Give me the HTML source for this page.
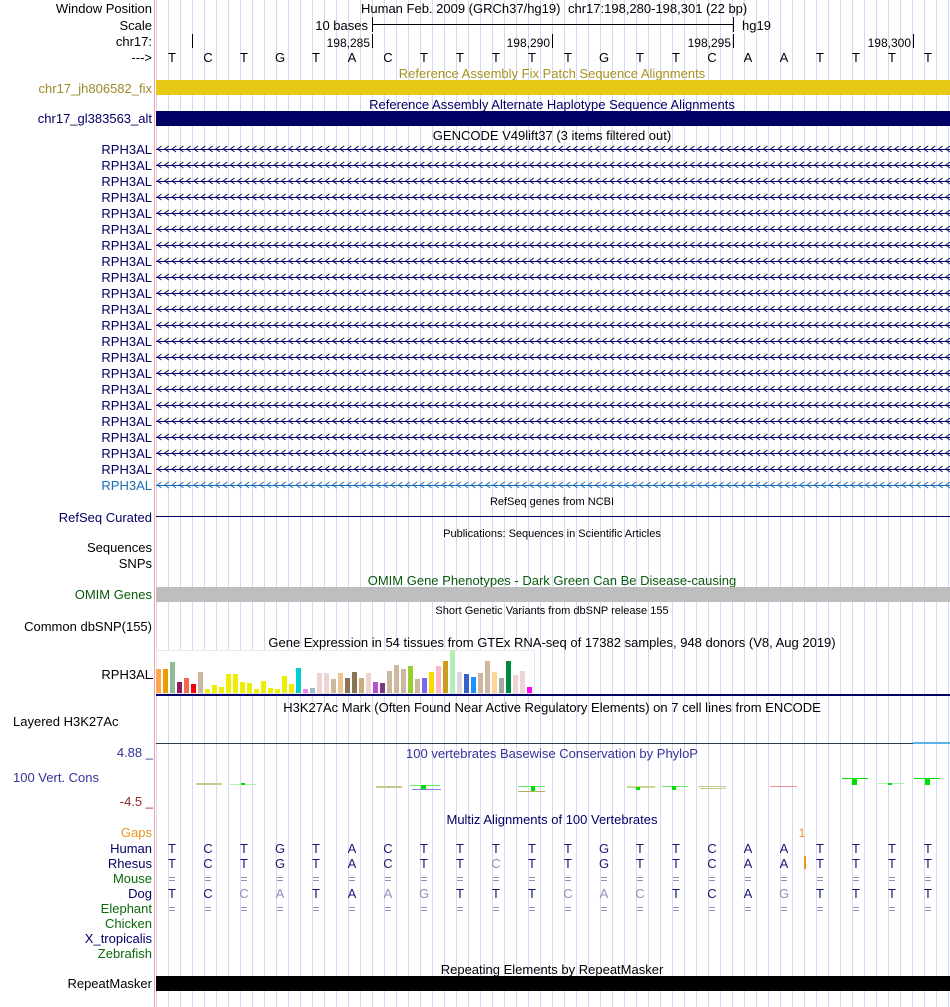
<!DOCTYPE html>
<html><head><meta charset="utf-8"><style>
html,body{margin:0;padding:0;background:#fff;}
svg{display:block;font-family:"Liberation Sans",sans-serif;}
</style></head><body>
<svg width="950" height="1007" viewBox="0 0 950 1007" xmlns="http://www.w3.org/2000/svg">
<defs>
<pattern id="grid" x="156" y="0" width="12" height="20" patternUnits="userSpaceOnUse">
<rect x="0" y="0" width="1" height="20" fill="#d6d6f6"/>
</pattern>
<pattern id="chev" x="156" y="141" width="7.3" height="16" patternUnits="userSpaceOnUse">
<path d="M5.5,5 L1.5,8 L5.5,11" fill="none" stroke="#000066" stroke-width="1"/>
<rect x="0" y="8" width="7.3" height="1" fill="#000066"/>
</pattern>
<pattern id="chev2" x="156" y="477" width="7.3" height="16" patternUnits="userSpaceOnUse">
<path d="M5.5,5 L1.5,8 L5.5,11" fill="none" stroke="#1a6cb8" stroke-width="1"/>
<rect x="0" y="8" width="7.3" height="1" fill="#1a6cb8"/>
</pattern>
</defs>
<rect x="156" y="0" width="794" height="1007" fill="url(#grid)"/>
<rect x="154" y="0" width="1" height="1007" fill="#f4a0a0"/>

<g font-size="13" text-anchor="end" fill="#000">
<text x="152" y="13">Window Position</text>
<text x="152" y="30">Scale</text>
<text x="152" y="46">chr17:</text>
<text x="152" y="62">---&gt;</text>
<text x="152" y="93" fill="#9b8a2a">chr17_jh806582_fix</text>
<text x="152" y="123" fill="#000066">chr17_gl383563_alt</text>
</g>
<text x="361" y="13" font-size="13">Human Feb. 2009 (GRCh37/hg19)</text>
<text x="568" y="13" font-size="13">chr17:198,280-198,301 (22 bp)</text>
<text x="368" y="30" font-size="13" text-anchor="end">10 bases</text>
<rect x="372" y="24" width="361" height="1" fill="#000"/>
<rect x="372" y="17" width="1" height="15" fill="#000"/>
<rect x="733" y="17" width="1" height="15" fill="#000"/>
<text x="742" y="30" font-size="13">hg19</text>
<g font-size="12" text-anchor="end">
<rect x="192" y="34" width="1" height="14" fill="#000"/>
<text x="370" y="47">198,285</text><rect x="372" y="34" width="1" height="14" fill="#000"/>
<text x="550" y="47">198,290</text><rect x="552" y="34" width="1" height="14" fill="#000"/>
<text x="731" y="47">198,295</text><rect x="733" y="34" width="1" height="14" fill="#000"/>
<text x="911" y="47">198,300</text><rect x="913" y="34" width="1" height="14" fill="#000"/>
</g>
<g font-size="13" text-anchor="middle">
<text x="172" y="62">T</text><text x="208" y="62">C</text><text x="244" y="62">T</text><text x="280" y="62">G</text><text x="316" y="62">T</text><text x="352" y="62">A</text><text x="388" y="62">C</text><text x="424" y="62">T</text><text x="460" y="62">T</text><text x="496" y="62">T</text><text x="532" y="62">T</text><text x="568" y="62">T</text><text x="604" y="62">G</text><text x="640" y="62">T</text><text x="676" y="62">T</text><text x="712" y="62">C</text><text x="748" y="62">A</text><text x="784" y="62">A</text><text x="820" y="62">T</text><text x="856" y="62">T</text><text x="892" y="62">T</text><text x="928" y="62">T</text>
</g>

<text x="552" y="78" font-size="13" text-anchor="middle" fill="#a8921e">Reference Assembly Fix Patch Sequence Alignments</text>
<rect x="156" y="80" width="794" height="15" fill="#e6c817"/>
<text x="552" y="109" font-size="13" text-anchor="middle" fill="#000066">Reference Assembly Alternate Haplotype Sequence Alignments</text>
<rect x="156" y="111" width="794" height="15" fill="#000066"/>
<text x="552" y="140" font-size="13" text-anchor="middle">GENCODE V49lift37 (3 items filtered out)</text>

<g font-size="13" text-anchor="end" fill="#000066">
<text x="152" y="154">RPH3AL</text><text x="152" y="170">RPH3AL</text><text x="152" y="186">RPH3AL</text><text x="152" y="202">RPH3AL</text><text x="152" y="218">RPH3AL</text><text x="152" y="234">RPH3AL</text><text x="152" y="250">RPH3AL</text><text x="152" y="266">RPH3AL</text><text x="152" y="282">RPH3AL</text><text x="152" y="298">RPH3AL</text><text x="152" y="314">RPH3AL</text><text x="152" y="330">RPH3AL</text><text x="152" y="346">RPH3AL</text><text x="152" y="362">RPH3AL</text><text x="152" y="378">RPH3AL</text><text x="152" y="394">RPH3AL</text><text x="152" y="410">RPH3AL</text><text x="152" y="426">RPH3AL</text><text x="152" y="442">RPH3AL</text><text x="152" y="458">RPH3AL</text><text x="152" y="474">RPH3AL</text>
<text x="152" y="490" fill="#1a6cb8">RPH3AL</text>
</g>
<rect x="156" y="141" width="794" height="336" fill="url(#chev)"/>
<rect x="156" y="477" width="794" height="16" fill="url(#chev2)"/>

<text x="552" y="505" font-size="11" text-anchor="middle">RefSeq genes from NCBI</text>
<text x="152" y="522" font-size="13" text-anchor="end" fill="#000066">RefSeq Curated</text>
<rect x="156" y="516" width="794" height="1" fill="#000066"/>
<text x="552" y="537" font-size="11" text-anchor="middle">Publications: Sequences in Scientific Articles</text>
<text x="152" y="552" font-size="13" text-anchor="end">Sequences</text>
<text x="152" y="568" font-size="13" text-anchor="end">SNPs</text>
<text x="552" y="585" font-size="13" text-anchor="middle" fill="#0b5a0b">OMIM Gene Phenotypes - Dark Green Can Be Disease-causing</text>
<rect x="156" y="587" width="794" height="15" fill="#bebebe"/>
<text x="152" y="599" font-size="13" text-anchor="end" fill="#0b5a0b">OMIM Genes</text>
<text x="552" y="614" font-size="11" text-anchor="middle">Short Genetic Variants from dbSNP release 155</text>
<text x="152" y="631" font-size="13" text-anchor="end">Common dbSNP(155)</text>
<text x="552" y="647" font-size="13" text-anchor="middle">Gene Expression in 54 tissues from GTEx RNA-seq of 17382 samples, 948 donors (V8, Aug 2019)</text>
<text x="152" y="679" font-size="13" text-anchor="end">RPH3AL</text>
<rect x="156.5" y="650.5" width="378" height="43" fill="#fff" stroke="#e8e8e8"/>
<rect x="150" y="678" width="3" height="1" fill="#000"/>
<g>
<rect x="156" y="669" width="5" height="24" fill="#FFA54F"/>
<rect x="163" y="669" width="5" height="24" fill="#EE9A00"/>
<rect x="170" y="662" width="5" height="31" fill="#8FBC8F"/>
<rect x="177" y="682" width="5" height="11" fill="#8B1C62"/>
<rect x="184" y="678" width="5" height="15" fill="#EE6A50"/>
<rect x="191" y="684" width="5" height="9" fill="#FF0000"/>
<rect x="198" y="672" width="5" height="21" fill="#CDB79E"/>
<rect x="205" y="689" width="5" height="4" fill="#EEEE00"/>
<rect x="212" y="685" width="5" height="8" fill="#EEEE00"/>
<rect x="219" y="687" width="5" height="6" fill="#EEEE00"/>
<rect x="226" y="674" width="5" height="19" fill="#EEEE00"/>
<rect x="233" y="674" width="5" height="19" fill="#EEEE00"/>
<rect x="240" y="682" width="5" height="11" fill="#EEEE00"/>
<rect x="247" y="683" width="5" height="10" fill="#EEEE00"/>
<rect x="254" y="689" width="5" height="4" fill="#EEEE00"/>
<rect x="261" y="681" width="5" height="12" fill="#EEEE00"/>
<rect x="268" y="688" width="5" height="5" fill="#EEEE00"/>
<rect x="275" y="689" width="5" height="4" fill="#EEEE00"/>
<rect x="282" y="676" width="5" height="17" fill="#EEEE00"/>
<rect x="289" y="684" width="5" height="9" fill="#EEEE00"/>
<rect x="296" y="668" width="5" height="25" fill="#00CED1"/>
<rect x="303" y="689" width="5" height="4" fill="#EE82EE"/>
<rect x="310" y="688" width="5" height="5" fill="#9AC0CD"/>
<rect x="317" y="673" width="5" height="20" fill="#EED5D2"/>
<rect x="324" y="673" width="5" height="20" fill="#EED5D2"/>
<rect x="331" y="679" width="5" height="14" fill="#CDB79E"/>
<rect x="338" y="673" width="5" height="20" fill="#EEC591"/>
<rect x="345" y="678" width="5" height="15" fill="#8B7355"/>
<rect x="352" y="672" width="5" height="21" fill="#8B7355"/>
<rect x="359" y="678" width="5" height="15" fill="#CDAA7D"/>
<rect x="366" y="673" width="5" height="20" fill="#EED5D2"/>
<rect x="373" y="682" width="5" height="11" fill="#B452CD"/>
<rect x="380" y="683" width="5" height="10" fill="#7A378B"/>
<rect x="387" y="671" width="5" height="22" fill="#CDB79E"/>
<rect x="394" y="665" width="5" height="28" fill="#CDB79E"/>
<rect x="401" y="669" width="5" height="24" fill="#CDB79E"/>
<rect x="408" y="666" width="5" height="27" fill="#9ACD32"/>
<rect x="415" y="679" width="5" height="14" fill="#CDB79E"/>
<rect x="422" y="678" width="5" height="15" fill="#7A67EE"/>
<rect x="429" y="672" width="5" height="21" fill="#FFD700"/>
<rect x="436" y="666" width="5" height="27" fill="#FFB6C1"/>
<rect x="443" y="661" width="5" height="32" fill="#CD9B1D"/>
<rect x="450" y="650" width="5" height="43" fill="#B4EEB4"/>
<rect x="457" y="672" width="5" height="21" fill="#D9D9D9"/>
<rect x="464" y="674" width="5" height="19" fill="#3A5FCD"/>
<rect x="471" y="677" width="5" height="16" fill="#1E90FF"/>
<rect x="478" y="673" width="5" height="20" fill="#CDB79E"/>
<rect x="485" y="661" width="5" height="32" fill="#CDB79E"/>
<rect x="492" y="672" width="5" height="21" fill="#FFD39B"/>
<rect x="499" y="678" width="5" height="15" fill="#A6A6A6"/>
<rect x="506" y="661" width="5" height="32" fill="#008B45"/>
<rect x="513" y="675" width="5" height="18" fill="#EED5D2"/>
<rect x="520" y="671" width="5" height="22" fill="#EED5D2"/>
<rect x="527" y="687" width="5" height="6" fill="#FF00FF"/>
</g>
<rect x="156" y="694" width="794" height="2" fill="#000066"/>

<text x="552" y="712" font-size="13" text-anchor="middle">H3K27Ac Mark (Often Found Near Active Regulatory Elements) on 7 cell lines from ENCODE</text>
<text x="13" y="726" font-size="13">Layered H3K27Ac</text>
<rect x="156" y="743" width="757" height="1" fill="#2f3f4f"/>
<rect x="913" y="742" width="37" height="2" fill="#5ab4e6"/>

<text x="153" y="757" font-size="13" text-anchor="end" fill="#333399">4.88 _</text>
<text x="552" y="758" font-size="13" text-anchor="middle" fill="#333399">100 vertebrates Basewise Conservation by PhyloP</text>
<text x="13" y="782" font-size="13" fill="#333399">100 Vert. Cons</text>
<text x="153" y="806" font-size="13" text-anchor="end" fill="#8b2a2a">-4.5 _</text>
<g>
<rect x="196" y="783" width="26" height="2" fill="#c8c890"/>
<rect x="230" y="784" width="26" height="1" fill="#b0f0b0"/><rect x="241" y="783" width="4" height="2" fill="#00e000"/>
<rect x="376" y="786" width="26" height="2" fill="#c8c890"/>
<rect x="410" y="785" width="30" height="1" fill="#60f060"/><rect x="421" y="785" width="5" height="4" fill="#00e000"/><rect x="412" y="789" width="29" height="1" fill="#8080e0"/>
<rect x="518" y="786" width="27" height="1" fill="#60f060"/><rect x="531" y="786" width="4" height="6" fill="#00e000"/><rect x="518" y="791" width="27" height="1" fill="#b0b060"/>
<rect x="627" y="786" width="28" height="2" fill="#c8d890"/><rect x="636" y="787" width="4" height="3" fill="#00e000"/>
<rect x="662" y="786" width="26" height="1" fill="#60f060"/><rect x="672" y="786" width="4" height="4" fill="#00e000"/>
<rect x="698" y="786" width="28" height="1" fill="#c8c890"/><rect x="700" y="788" width="26" height="1" fill="#c8c890"/>
<rect x="770" y="786" width="27" height="1" fill="#f09090"/>
<rect x="842" y="778" width="26" height="1" fill="#00e000"/><rect x="852" y="778" width="5" height="7" fill="#00e000"/>
<rect x="878" y="783" width="26" height="1" fill="#b0f0b0"/><rect x="888" y="783" width="4" height="2" fill="#00e000"/>
<rect x="914" y="778" width="26" height="1" fill="#00e000"/><rect x="925" y="778" width="5" height="7" fill="#00e000"/>
</g>

<text x="552" y="824" font-size="13" text-anchor="middle" fill="#000066">Multiz Alignments of 100 Vertebrates</text>
<g font-size="13" text-anchor="end">
<text x="152" y="837" fill="#e8961e">Gaps</text>
<text x="152" y="853" fill="#000066">Human</text>
<text x="152" y="868" fill="#000066">Rhesus</text>
<text x="152" y="883" fill="#0b6a0b">Mouse</text>
<text x="152" y="898" fill="#000066">Dog</text>
<text x="152" y="913" fill="#0b6a0b">Elephant</text>
<text x="152" y="928" fill="#0b6a0b">Chicken</text>
<text x="152" y="943" fill="#000066">X_tropicalis</text>
<text x="152" y="958" fill="#0b6a0b">Zebrafish</text>
</g>
<text x="802" y="837" font-size="12" text-anchor="middle" fill="#e8961e">1</text>
<rect x="804" y="856" width="2" height="13" fill="#e8961e"/>
<g font-size="13" text-anchor="middle" fill="#191970">
<text x="172" y="853">T</text><text x="208" y="853">C</text><text x="244" y="853">T</text><text x="280" y="853">G</text><text x="316" y="853">T</text><text x="352" y="853">A</text><text x="388" y="853">C</text><text x="424" y="853">T</text><text x="460" y="853">T</text><text x="496" y="853">T</text><text x="532" y="853">T</text><text x="568" y="853">T</text><text x="604" y="853">G</text><text x="640" y="853">T</text><text x="676" y="853">T</text><text x="712" y="853">C</text><text x="748" y="853">A</text><text x="784" y="853">A</text><text x="820" y="853">T</text><text x="856" y="853">T</text><text x="892" y="853">T</text><text x="928" y="853">T</text>
<text x="172" y="868">T</text><text x="208" y="868">C</text><text x="244" y="868">T</text><text x="280" y="868">G</text><text x="316" y="868">T</text><text x="352" y="868">A</text><text x="388" y="868">C</text><text x="424" y="868">T</text><text x="460" y="868">T</text><text x="496" y="868" fill="#9090b8">C</text><text x="532" y="868">T</text><text x="568" y="868">T</text><text x="604" y="868">G</text><text x="640" y="868">T</text><text x="676" y="868">T</text><text x="712" y="868">C</text><text x="748" y="868">A</text><text x="784" y="868">A</text><text x="820" y="868">T</text><text x="856" y="868">T</text><text x="892" y="868">T</text><text x="928" y="868">T</text>
<text x="172" y="898">T</text><text x="208" y="898">C</text><text x="244" y="898" fill="#9090b8">C</text><text x="280" y="898" fill="#9090b8">A</text><text x="316" y="898">T</text><text x="352" y="898">A</text><text x="388" y="898" fill="#9090b8">A</text><text x="424" y="898" fill="#9090b8">G</text><text x="460" y="898">T</text><text x="496" y="898">T</text><text x="532" y="898">T</text><text x="568" y="898" fill="#9090b8">C</text><text x="604" y="898" fill="#9090b8">A</text><text x="640" y="898" fill="#9090b8">C</text><text x="676" y="898">T</text><text x="712" y="898">C</text><text x="748" y="898">A</text><text x="784" y="898" fill="#9090b8">G</text><text x="820" y="898">T</text><text x="856" y="898">T</text><text x="892" y="898">T</text><text x="928" y="898">T</text>
</g>
<g font-size="12" text-anchor="middle" fill="#8080b0">
<text x="172" y="883">=</text><text x="208" y="883">=</text><text x="244" y="883">=</text><text x="280" y="883">=</text><text x="316" y="883">=</text><text x="352" y="883">=</text><text x="388" y="883">=</text><text x="424" y="883">=</text><text x="460" y="883">=</text><text x="496" y="883">=</text><text x="532" y="883">=</text><text x="568" y="883">=</text><text x="604" y="883">=</text><text x="640" y="883">=</text><text x="676" y="883">=</text><text x="712" y="883">=</text><text x="748" y="883">=</text><text x="784" y="883">=</text><text x="820" y="883">=</text><text x="856" y="883">=</text><text x="892" y="883">=</text><text x="928" y="883">=</text>
<text x="172" y="913">=</text><text x="208" y="913">=</text><text x="244" y="913">=</text><text x="280" y="913">=</text><text x="316" y="913">=</text><text x="352" y="913">=</text><text x="388" y="913">=</text><text x="424" y="913">=</text><text x="460" y="913">=</text><text x="496" y="913">=</text><text x="532" y="913">=</text><text x="568" y="913">=</text><text x="604" y="913">=</text><text x="640" y="913">=</text><text x="676" y="913">=</text><text x="712" y="913">=</text><text x="748" y="913">=</text><text x="784" y="913">=</text><text x="820" y="913">=</text><text x="856" y="913">=</text><text x="892" y="913">=</text><text x="928" y="913">=</text>
</g>

<text x="552" y="974" font-size="13" text-anchor="middle">Repeating Elements by RepeatMasker</text>
<text x="152" y="988" font-size="13" text-anchor="end">RepeatMasker</text>
<rect x="156" y="976" width="794" height="15" fill="#000"/>
</svg>
</body></html>
